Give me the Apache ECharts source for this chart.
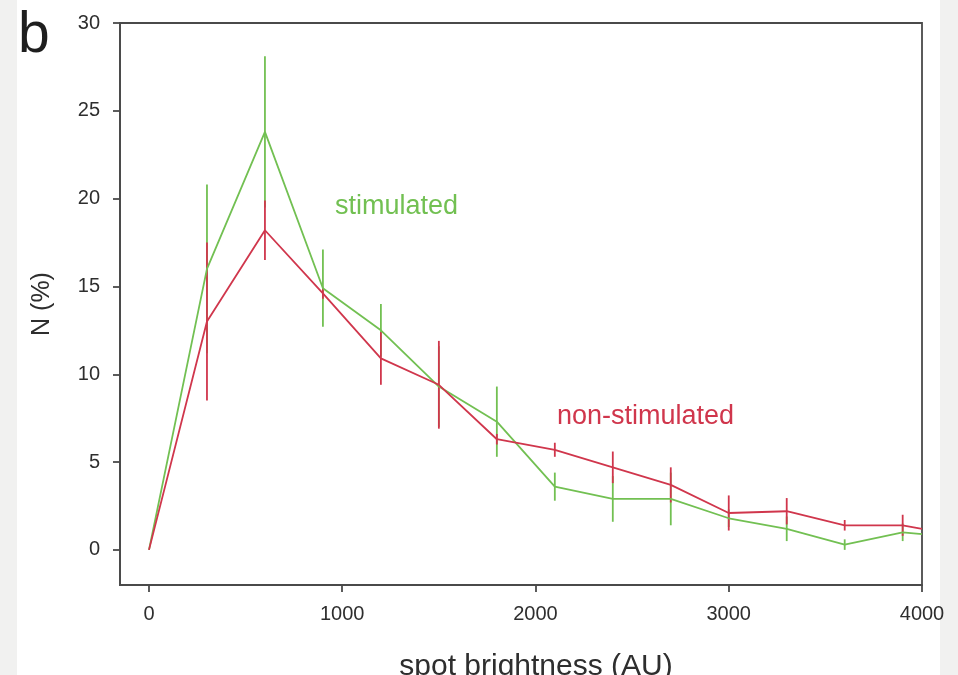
<!DOCTYPE html>
<html>
<head>
<meta charset="utf-8">
<title>spot brightness</title>
<script src="https://cdn.jsdelivr.net/npm/echarts@6/dist/echarts.min.js"></script>
<style>
    html, body { margin: 0; padding: 0; background: #f1f1f0; }
    #main { width: 958px; height: 675px; }
</style>
</head>
<body>
<div id="main"></div>
<script>
    // brightness bins (AU)
    const brightness = [0, 300, 600, 900, 1200, 1500, 1800, 2100, 2400, 2700, 3000, 3300, 3600, 3900, 4000];

    // stimulated: mean N (%) and error (+/-)
    const stimMean = [0, 16.0, 23.8, 14.9, 12.5, 9.3, 7.3, 3.6, 2.9, 2.9, 1.8, 1.2, 0.3, 1.0, 0.9];
    const stimErr  = [0, 4.8, 4.3, 2.2, 1.5, 2.3, 2.0, 0.8, 1.3, 1.5, 0.5, 0.7, 0.3, 0.5, 0];

    // non-stimulated
    const nonMean = [0, 13.0, 18.2, 14.6, 10.9, 9.4, 6.3, 5.7, 4.7, 3.7, 2.1, 2.2, 1.4, 1.4, 1.2];
    const nonErr  = [0, 4.5, 1.7, 0.3, 1.5, 2.5, 0.3, 0.4, 0.9, 1.0, 1.0, 0.75, 0.3, 0.6, 0];

    const xTicks = [0, 1000, 2000, 3000, 4000];
    const yTicks = [0, 5, 10, 15, 20, 25, 30];

    const green = '#72c052';
    const red = '#d0364c';
    const axisCol = '#4a4a4a';
    const textCol = '#2e2e2e';

    function pairs(xs, ys) {
        return xs.map((x, i) => [x, ys[i]]);
    }
    function errData(xs, m, e) {
        return xs.map((x, i) => [x, m[i] - e[i], m[i] + e[i]]).filter((d, i) => e[i] > 0);
    }
    function errSeries(data, color) {
        return {
            type: 'custom',
            data: data,
            silent: true,
            renderItem: function (params, api) {
                const lo = api.coord([api.value(0), api.value(1)]);
                const hi = api.coord([api.value(0), api.value(2)]);
                return {
                    type: 'line',
                    shape: { x1: lo[0], y1: lo[1], x2: hi[0], y2: hi[1] },
                    style: { stroke: color, lineWidth: 1.8 }
                };
            },
            z: 3
        };
    }

    const chart = echarts.init(document.getElementById('main'));
    chart.setOption({
        backgroundColor: '#f1f1f0',
        animation: false,
        textStyle: { fontFamily: 'Liberation Sans, Arial, sans-serif' },
        grid: {
            left: 120, right: 36, top: 23, bottom: 90,
            outerBoundsMode: 'none', containLabel: false,
            show: true, borderColor: axisCol, borderWidth: 1.8, backgroundColor: '#fff'
        },
        graphic: [
            { type: 'rect', z: -10, shape: { x: 17, y: 0, width: 923, height: 675 }, style: { fill: '#ffffff' } },
            { type: 'text', left: 18, top: 8, style: { text: 'b', font: '57px Liberation Sans, Arial', fill: '#1e1e1e' } },
            { type: 'text', left: 335, top: 193, style: { text: 'stimulated', font: '27px Liberation Sans, Arial', fill: green } },
            { type: 'text', left: 557, top: 403, style: { text: 'non-stimulated', font: '27px Liberation Sans, Arial', fill: red } }
        ],
        xAxis: {
            type: 'value',
            min: -150, max: 4000,
            name: 'spot brightness (AU)',
            nameLocation: 'middle',
            nameGap: 67,
            nameTextStyle: { fontSize: 30, color: textCol, padding: [0, 0, 0, 30] },
            splitLine: { show: false },
            axisLine: { onZero: false, lineStyle: { color: axisCol, width: 1.8 } },
            axisTick: { customValues: xTicks, length: 7, lineStyle: { color: axisCol, width: 1.8 } },
            axisLabel: { customValues: xTicks, fontSize: 20, color: textCol, margin: 19, formatter: v => String(v) }
        },
        yAxis: {
            type: 'value',
            min: -2, max: 30,
            name: 'N (%)',
            nameLocation: 'middle',
            nameGap: 65,
            nameTextStyle: { fontSize: 25, color: textCol },
            splitLine: { show: false },
            axisLine: { onZero: false, lineStyle: { color: axisCol, width: 1.8 } },
            axisTick: { customValues: yTicks, length: 7, lineStyle: { color: axisCol, width: 1.8 } },
            axisLabel: { customValues: yTicks, fontSize: 20, color: textCol, margin: 20, formatter: v => String(v) }
        },
        series: [
            errSeries(errData(brightness, stimMean, stimErr), green),
            errSeries(errData(brightness, nonMean, nonErr), red),
            {
                name: 'stimulated', type: 'line', data: pairs(brightness, stimMean),
                symbol: 'none', lineStyle: { color: green, width: 1.8 }, z: 4
            },
            {
                name: 'non-stimulated', type: 'line', data: pairs(brightness, nonMean),
                symbol: 'none', lineStyle: { color: red, width: 1.8 }, z: 4
            }
        ]
    });
</script>
</body>
</html>
